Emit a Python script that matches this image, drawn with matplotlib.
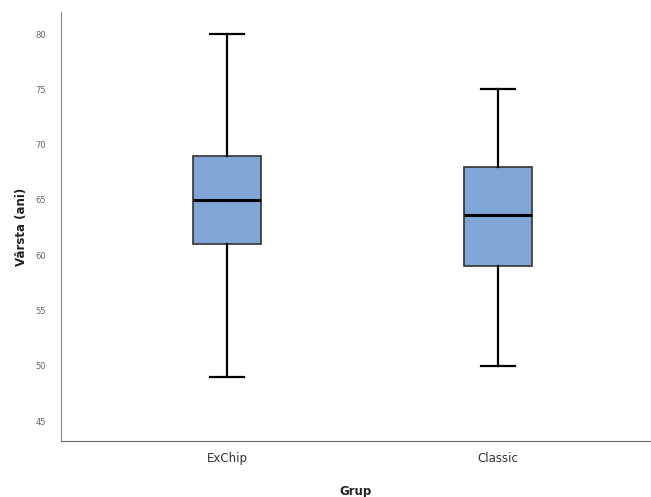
import matplotlib
matplotlib.use("Agg")
import matplotlib.pyplot as plt

# date
grupuri = ["ExChip", "Classic"]
minime = [49, 50]
q1 = [61, 59]
mediane = [65, 63.6]
q3 = [69, 68]
maxime = [80, 75]
ticks_y = [45, 50, 55, 60, 65, 70, 75, 80]

stats = []
for i, g in enumerate(grupuri):
    stats.append({"label": g, "whislo": minime[i], "q1": q1[i], "med": mediane[i],
                  "q3": q3[i], "whishi": maxime[i], "fliers": []})

fig = plt.figure(figsize=(6.51, 4.97), dpi=100)
ax = fig.add_axes([0.0937, 0.1127, 0.9063, 0.8632])

ax.bxp(stats, positions=[1, 2], widths=0.25, patch_artist=True, showfliers=False,
       boxprops=dict(facecolor="#7fa6d6", edgecolor="#333333", linewidth=1.2),
       medianprops=dict(color="black", linewidth=2.2),
       whiskerprops=dict(color="black", linewidth=1.6),
       capprops=dict(color="black", linewidth=1.6),
       capwidths=0.125)

ax.set_xlim(0.387, 2.565)
ax.set_ylim(43.2, 82.0)
ax.set_yticks(ticks_y)
ax.set_yticklabels([str(t) for t in ticks_y], fontsize=6, color="#666666")
ax.tick_params(axis="y", length=0, pad=11)
ax.tick_params(axis="x", length=0, pad=8, labelsize=8.5, labelcolor="#333333")

for s in ["top", "right"]:
    ax.spines[s].set_visible(False)
ax.spines["left"].set_color("#888888")
ax.spines["bottom"].set_color("#666666")

ax.set_ylabel("Vârsta (ani)", fontsize=8.5, fontweight="bold", color="#222222", labelpad=5)
ax.set_xlabel("Grup", fontsize=8.5, fontweight="bold", color="#222222", labelpad=14)

fig.savefig("out.png", dpi=100)
